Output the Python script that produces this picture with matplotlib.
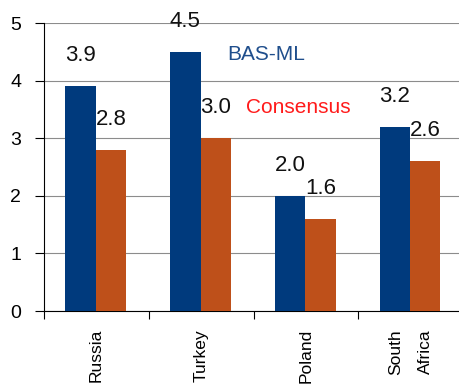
import matplotlib
matplotlib.use("Agg")
import matplotlib.pyplot as plt
import numpy as np

plt.rcParams['font.family'] = ['Liberation Sans', 'DejaVu Sans']

categories = ["Russia", "Turkey", "Poland", "South\nAfrica"]
bas_ml = [3.9, 4.5, 2.0, 3.2]
consensus = [2.8, 3.0, 1.6, 2.6]
y_ticks = [0, 1, 2, 3, 4, 5]

blue = "#003A7D"
orange = "#BE501A"

fig = plt.figure(figsize=(4.6, 3.9), dpi=100)
ax = fig.add_axes([44 / 460, 79 / 390, 419 / 460, 288 / 390])

x = np.arange(len(categories))
w = 0.29
b1 = ax.bar(x - w / 2 - 0.005, bas_ml, width=w, color=blue, zorder=3)
b2 = ax.bar(x + w / 2 - 0.005, consensus, width=w, color=orange, zorder=3)

for bars, vals in ((b1, bas_ml), (b2, consensus)):
    for r, v in zip(bars, vals):
        ax.annotate(f"{v:.1f}", (r.get_x() + r.get_width() / 2, v),
                    xytext=(0, 18), textcoords="offset points",
                    ha="center", va="baseline", fontsize=16, color="#111111",
                    zorder=4)

ax.text(1.252, 4.358, "BAS-ML", color="#1F4E8C", fontsize=15,
        ha="left", va="baseline")
ax.text(1.433, 3.437, "Consensus", color="#FF1A1A", fontsize=15,
        ha="left", va="baseline")

ax.set_xlim(-0.5, 3.5)
ax.set_ylim(0, 5)
ax.set_yticks(y_ticks)
ax.yaxis.grid(True, color="#8C8C8C", linewidth=0.8, zorder=0)
ax.set_axisbelow(True)

ax.set_xticks(x)
ax.set_xticklabels(categories, rotation=90, fontsize=12.5, linespacing=2.3)
ax.set_xticks(np.arange(-0.5, 4.0, 1.0), minor=True)
ax.tick_params(axis="x", which="major", length=0, pad=13)
ax.tick_params(axis="x", which="minor", length=6, width=0.8, direction="out")
ax.tick_params(axis="y", length=6.5, width=0.8, direction="out", pad=10,
               labelsize=14)

for s in ("top", "right"):
    ax.spines[s].set_visible(False)
ax.spines["left"].set_linewidth(0.8)
ax.spines["bottom"].set_linewidth(0.8)

fig.savefig("out.png", dpi=100)
